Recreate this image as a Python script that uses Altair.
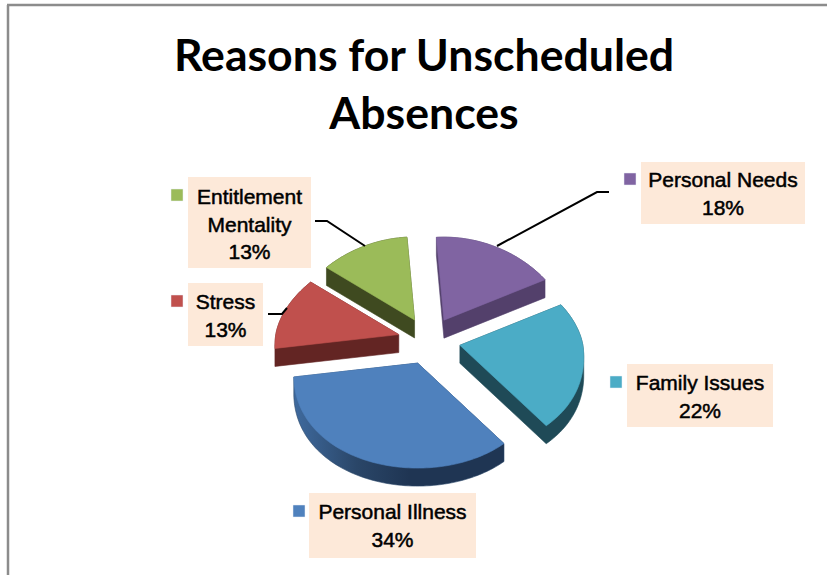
import math
import altair as alt
import pandas as pd

WIDTH, HEIGHT = 827, 575

# Slices, clockwise from the top of the pie
categories = ["Personal Needs", "Family Issues", "Personal Illness", "Stress", "Entitlement Mentality"]
values = [18, 22, 34, 13, 13]
top_colors = ["#8064a2", "#4bacc6", "#4f81bd", "#c0504d", "#9bbb59"]
rim_colors = ["#53406b", "#1f4a57", "#1f3553", "#632523", "#3f4a20"]

START_ANGLE = -4.0
CENTER = (429.0, 341.0)
RADIUS_X = 123.0
RADIUS_BACK = 83.0   # foreshortened half of the tilted disc
RADIUS_FRONT = 105.0
PERSPECTIVE = 0.12   # the far side of the disc is drawn narrower than the near side
EXPLODE = (31.4, 23.7)
DEPTH = 18.0

x_scale = alt.Scale(domain=[0, WIDTH], range=[0, WIDTH], nice=False, zero=False)
y_scale = alt.Scale(domain=[0, HEIGHT], range=[0, HEIGHT], nice=False, zero=False)
X = alt.X("x:Q", scale=x_scale, axis=None)
Y = alt.Y("y:Q", scale=y_scale, axis=None)


def on_disc(angle):
    """Tilted-disc offset for an angle measured clockwise from the top."""
    s, c = math.sin(math.radians(angle)), math.cos(math.radians(angle))
    return RADIUS_X * s * (1 - PERSPECTIVE * c), -(RADIUS_BACK if c > 0 else RADIUS_FRONT) * c


def wedge_outline(start, sweep):
    mid = start + sweep / 2
    sm, cm = math.sin(math.radians(mid)), math.cos(math.radians(mid))
    ax = CENTER[0] + EXPLODE[0] * sm
    ay = CENTER[1] - EXPLODE[1] * cm
    steps = max(2, int(sweep / 1.5))
    pts = [(ax, ay)]
    for i in range(steps + 1):
        dx, dy = on_disc(start + sweep * i / steps)
        pts.append((ax + dx, ay + dy))
    return pts


def convex_hull(points):
    pts = sorted(set(points))

    def half(seq):
        out = []
        for p in seq:
            while len(out) > 1 and (out[-1][0] - out[-2][0]) * (p[1] - out[-2][1]) - (out[-1][1] - out[-2][1]) * (p[0] - out[-2][0]) <= 0:
                out.pop()
            out.append(p)
        return out[:-1]

    return half(pts) + half(pts[::-1])


def polygon(points, fill, stroke):
    closed = list(points) + [points[0]]
    df = pd.DataFrame({"x": [p[0] for p in closed], "y": [p[1] for p in closed], "o": range(len(closed))})
    return alt.Chart(df).mark_line(fill=fill, stroke=stroke, strokeWidth=0.6, interpolate="linear").encode(
        x=X, y=Y, order=alt.Order("o:Q")
    )


rims, tops = [], []
angle = START_ANGLE
for name, value, top, rim in zip(categories, values, top_colors, rim_colors):
    sweep = value * 3.6
    outline = wedge_outline(angle, sweep)
    lowered = [(px, py + DEPTH) for px, py in outline]
    rim_fill = rim
    if name == "Personal Illness":
        rim_fill = alt.Gradient(
            gradient="linear", x1=0, x2=1, y1=0, y2=0,
            stops=[
                alt.GradientStop(color="#3f6a9e", offset=0),
                alt.GradientStop(color="#2a4668", offset=0.3),
                alt.GradientStop(color="#1f3553", offset=0.55),
                alt.GradientStop(color="#1f3553", offset=1),
            ],
        )
        rims.append(polygon(convex_hull(outline + lowered), rim_fill, "#2a4668"))
    else:
        rims.append(polygon(convex_hull(outline + lowered), rim_fill, rim))
    tops.append(polygon(outline, top, top))
    angle += sweep

# Data-label boxes and their colour keys
box_left = [641, 627, 309, 188, 188]
box_right = [805, 773, 476, 263, 311]
box_top = [162, 364, 493, 283, 177]
box_bottom = [224, 427, 558, 346, 268]
key_left = [624, 610, 293, 171, 171]
key_top = [173, 376, 505, 295, 189]
KEY_SIZE = 12

boxes = pd.DataFrame({"x": box_left, "x2": box_right, "y": box_top, "y2": box_bottom})
box_layer = alt.Chart(boxes).mark_rect(color="#fde9d9").encode(
    x=X, x2="x2:Q", y=Y, y2="y2:Q"
)

keys = pd.DataFrame({
    "x": key_left,
    "x2": [k + KEY_SIZE for k in key_left],
    "y": key_top,
    "y2": [k + KEY_SIZE for k in key_top],
    "c": top_colors,
})
key_layer = alt.Chart(keys).mark_rect(stroke="#e8eef5", strokeWidth=0.5).encode(
    x=X, x2="x2:Q", y=Y, y2="y2:Q", fill=alt.Fill("c:N", scale=None)
)

# One row per label line
label_lines = {
    "Personal Needs": ["Personal Needs"],
    "Family Issues": ["Family Issues"],
    "Personal Illness": ["Personal Illness"],
    "Stress": ["Stress"],
    "Entitlement Mentality": ["Entitlement", "Mentality"],
}
first_line_y = [181, 384, 513, 303, 198]
label_rows = []
for name, value, left, right, y0 in zip(categories, values, box_left, box_right, first_line_y):
    lines = label_lines[name] + [f"{value}%"]
    for i, line in enumerate(lines):
        label_rows.append({"x": (left + right) / 2, "y": y0 + i * 27.5, "t": line})
label_layer = alt.Chart(pd.DataFrame(label_rows)).mark_text(
    font="Liberation Sans", fontSize=21, color="#000000", baseline="middle", align="center",
    stroke="#000000", strokeWidth=0.5,
).encode(x=X, y=Y, text="t:N")

# Leader lines from the labels to the slices
leader_names = ["Entitlement Mentality"] * 3 + ["Stress"] * 3 + ["Personal Needs"] * 3
leader_x = [315, 327, 365, 268, 282, 287, 609, 597, 497]
leader_y = [221, 221, 246, 314, 314, 308, 192, 192, 246]
leaders = pd.DataFrame({"x": leader_x, "y": leader_y, "n": leader_names, "o": range(len(leader_x))})
leader_layer = alt.Chart(leaders).mark_line(color="#000000", strokeWidth=2).encode(
    x=X, y=Y, detail="n:N", order=alt.Order("o:Q")
)

# Chart title
title_lines = ["Reasons for Unscheduled", "Absences"]
title_x = [424, 424]
title_y = [58, 116]
title_layer = alt.Chart(pd.DataFrame({"x": title_x, "y": title_y, "t": title_lines})).mark_text(
    font="Lato", fontSize=44.6, fontWeight="bold", color="#000000", baseline="middle", align="center",
).encode(x=X, y=Y, text="t:N")

# Grey chart frame along the top and left edges
frame_color = "#8c8c8c"
frame_top = alt.Chart(pd.DataFrame({"x": [7], "x2": [WIDTH], "y": [5]})).mark_rule(
    color=frame_color, strokeWidth=2.5
).encode(x=X, x2="x2:Q", y=Y)
frame_left = alt.Chart(pd.DataFrame({"x": [8], "y": [5], "y2": [HEIGHT]})).mark_rule(
    color=frame_color, strokeWidth=2.5
).encode(x=X, y=Y, y2="y2:Q")

chart = alt.layer(
    frame_top, frame_left, *rims, *tops, box_layer, key_layer, leader_layer, label_layer, title_layer
).properties(
    width=WIDTH, height=HEIGHT, padding=0, autosize=alt.AutoSizeParams(type="none"), background="#ffffff"
).configure_view(stroke=None)

chart.save("out.html", embed_options={"renderer": "svg", "actions": False})
